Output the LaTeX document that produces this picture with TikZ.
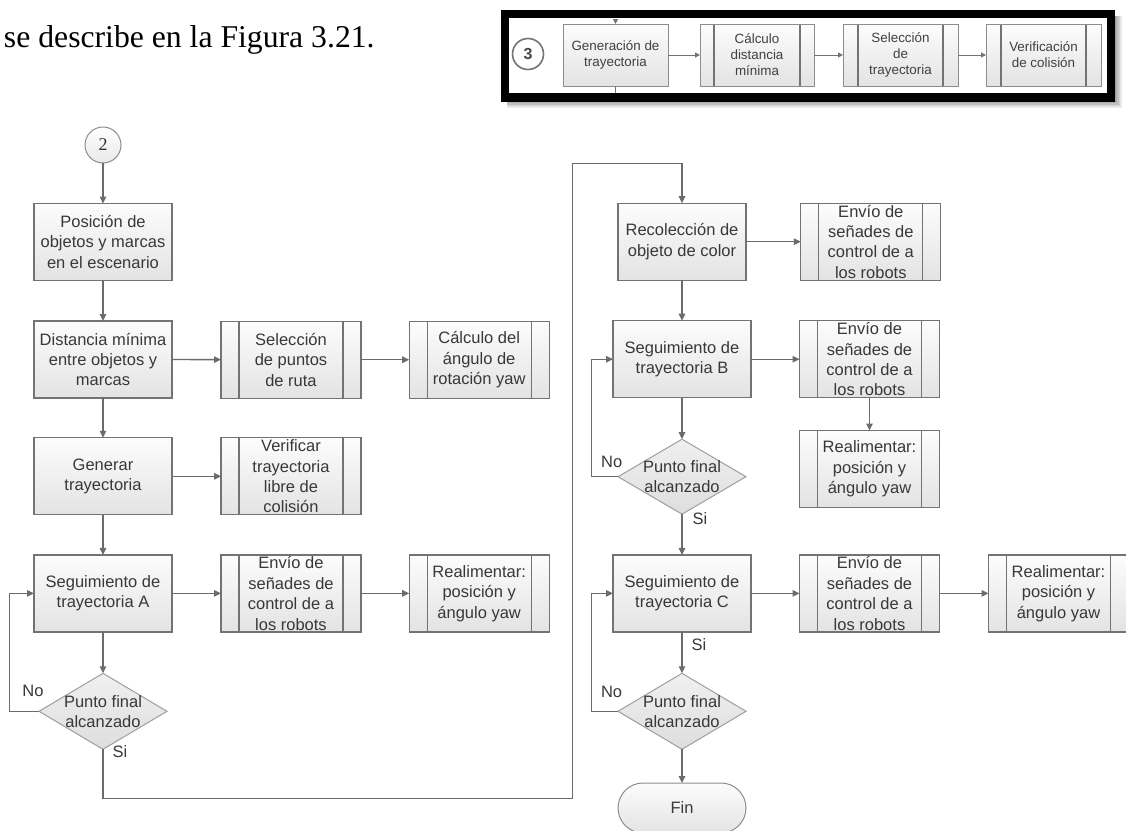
\documentclass[tikz,border=0pt]{standalone}
\usepackage{fontspec}
\setmainfont{Liberation Sans}
\newfontfamily\serifface{Liberation Serif}
\usetikzlibrary{arrows.meta,shapes.geometric}

\begin{document}
\begin{tikzpicture}[x=1pt,y=-1pt,
  every node/.style={inner sep=0pt, outer sep=0pt},
  txt/.style={align=center, text=black!78, font=\fontsize{16.5}{20.4}\selectfont},
  smalltxt/.style={align=center, text=black!75, font=\fontsize{13.4}{16}\selectfont},
  boxfill/.style={top color=black!1, bottom color=black!11},
  proc/.style={draw=black!55, line width=1.2pt, boxfill, minimum width=138pt, minimum height=77pt},
  sub/.style={proc, minimum width=140pt, path picture={
      \draw[black!55, line width=1.2pt]
        ([xshift=#1]path picture bounding box.north west) -- ([xshift=#1]path picture bounding box.south west)
        ([xshift=-#1]path picture bounding box.north east) -- ([xshift=-#1]path picture bounding box.south east);}},
  sub/.default=18pt,
  decision/.style={diamond, draw=black!38, line width=1pt, top color=black!6, bottom color=black!13,
      minimum width=128pt, minimum height=76pt},
  term/.style={draw=black!45, line width=1pt, boxfill, rounded corners=25pt,
      minimum width=128pt, minimum height=50pt},
  connector/.style={draw=black!58, line width=1.3pt},
  arr/.style={connector, -{Triangle[length=7pt,width=6.5pt]}},
  smallbox/.style={draw=black!45, line width=0.9pt, boxfill, minimum height=62pt},
  smallline/.style={draw=black!55, line width=1pt},
  smallarr/.style={smallline, -{Triangle[length=5pt,width=5pt]}}
]
\useasboundingbox (0,0) rectangle (1126,830);

% ---- running text line ----
\node[anchor=base west, font=\serifface\fontsize{31.7}{36}\selectfont] (head) at (4,47)
  {se describe en la Figura 3.21.};

% ---- framed summary of block 3 ----
\foreach \s in {1,...,5}
  \fill[black, opacity=0.09] (507,16) rectangle (1114+1.6*\s, 100+1.5*\s);
\fill[white] (505,14) rectangle (1111,97.5);
\draw[black, line width=8.3pt] (505,14) rectangle (1111,97.5);

\node[circle, draw=black!55, line width=1.6pt, fill=white, minimum size=31pt,
      text=black!72, font=\bfseries\fontsize{16}{16}\selectfont] (c3) at (528,54) {3};
\node[smallbox, minimum width=105pt] (g1) at (615.5,55) {};
\node[sub=14pt, smallbox, minimum width=114pt] (g2) at (757,55) {};
\node[sub=15pt, smallbox, minimum width=115pt] (g3) at (900.5,55) {};
\node[sub=15pt, smallbox, minimum width=115pt] (g4) at (1043.5,55) {};
\node[smalltxt] (g1-t) at (g1) {Generación de\\trayectoria};
\node[smalltxt] (g2-t) at (g2) {Cálculo\\distancia\\mínima};
\node[smalltxt] (g3-t) at (g3) {Selección\\de\\trayectoria};
\node[smalltxt] (g4-t) at (g4) {Verificación\\de colisión};

\coordinate (gin) at (615.5,18.5);
\coordinate (gout) at (615.5,93.2);
\draw[smallarr] (gin) -- (g1.north);
\draw[smallline] (g1.south) -- (gout);
\draw[smallarr] (g1) -- (g2);
\draw[smallarr] (g2) -- (g3);
\draw[smallarr] (g3) -- (g4);

% ---- connector 2 ----
\node[circle, draw=black!45, line width=1pt, top color=white, bottom color=black!9,
      minimum size=36pt, text=black!80, font=\serifface\fontsize{18}{18}\selectfont] (c2) at (103,145) {2};

% ---- left column ----
\node[proc] (pos)  at (103,242)   {};
\node[proc] (dist) at (103,359.5) {};
\node[proc] (gen)  at (103,476.3) {};
\node[proc] (segA) at (103,593.4) {};
\node[sub]  (sel)  at (291,359.7) {};
\node[sub]  (calc) at (479.2,359.7) {};
\node[sub]  (ver)  at (291,476.3) {};
\node[sub]  (envA) at (291,593.4) {};
\node[sub]  (realA) at (479.2,593.4) {};
\node[decision] (dA) at (103,711.3) {};

\node[txt] (pos-t)  at (pos)  {Posición de\\objetos y marcas\\en el escenario};
\node[txt] (dist-t) at (dist) {Distancia mínima\\entre objetos y\\marcas};
\node[txt] (gen-t)  at (gen)  {Generar\\trayectoria};
\node[txt] (segA-t) at (segA) {Seguimiento de\\trayectoria A};
\node[txt] (sel-t)  at (sel)  {Selección\\de puntos\\de ruta};
\node[txt] (calc-t) at (calc) {Cálculo del\\ángulo de\\rotación yaw};
\node[txt] (ver-t)  at (ver)  {Verificar\\trayectoria\\libre de\\colisión};
\node[txt] (envA-t) at (envA) {Envío de\\señades de\\control de a\\los robots};
\node[txt] (realA-t) at (realA) {Realimentar:\\posición y\\ángulo yaw};
\node[txt] (dA-t)   at (dA)   {Punto final\\alcanzado};

% ---- right column ----
\node[proc, minimum width=128pt] (rec) at (682,241.7) {};
\node[proc] (segB) at (682,359.2) {};
\node[proc] (segC) at (682,593.4) {};
\node[sub]  (env1) at (870.8,241.7) {};
\node[sub]  (env2) at (869.5,359.2) {};
\node[sub]  (realB) at (869.5,469) {};
\node[sub]  (env3) at (869.5,593.4) {};
\node[sub]  (realC) at (1058.5,593.4) {};
\node[decision, minimum height=75pt] (dB) at (682,476.7) {};
\node[decision] (dC) at (682,711.3) {};
\node[term] (fin) at (682,808) {};

\node[txt] (rec-t)  at (rec)  {Recolección de\\objeto de color};
\node[txt] (segB-t) at (segB) {Seguimiento de\\trayectoria B};
\node[txt] (segC-t) at (segC) {Seguimiento de\\trayectoria C};
\node[txt] (env1-t) at (env1) {Envío de\\señades de\\control de a\\los robots};
\node[txt] (env2-t) at (env2) {Envío de\\señades de\\control de a\\los robots};
\node[txt] (env3-t) at (env3) {Envío de\\señades de\\control de a\\los robots};
\node[txt] (realB-t) at (realB) {Realimentar:\\posición y\\ángulo yaw};
\node[txt] (realC-t) at (realC) {Realimentar:\\posición y\\ángulo yaw};
\node[txt] (dB-t) at (dB) {Punto final\\alcanzado};
\node[txt] (dC-t) at (dC) {Punto final\\alcanzado};
\node[txt] (fin-t) at (fin) {Fin};

% ---- branch labels ----
\node[txt] (noA) at (33,690.7)   {No};
\node[txt] (siA) at (120,752)    {Si};
\node[txt] (noB) at (611.7,462)  {No};
\node[txt] (siB) at (700,518.3)  {Si};
\node[txt] (siC) at (699,645)    {Si};
\node[txt] (noC) at (611.6,691.7) {No};

% ---- connectors ----
\draw[arr] (c2) -- (pos);
\draw[arr] (pos) -- (dist);
\draw[arr] (dist) -- (sel);
\draw[arr] (sel) -- (calc);
\draw[arr] (dist) -- (gen);
\draw[arr] (gen) -- (ver);
\draw[arr] (gen) -- (segA);
\draw[arr] (segA) -- (envA);
\draw[arr] (envA) -- (realA);
\draw[arr] (segA) -- (dA);
\coordinate (loopA) at (9.6,711.3);
\draw[arr] (dA.west) -- (loopA) |- (segA.west);

\coordinate (p1) at (572.3,798.3);
\coordinate (p2) at (572.3,163.3);
\draw[arr] (dA.south) |- (p1) -- (p2) -| (rec.north);

\draw[arr] (rec) -- (env1);
\draw[arr] (rec) -- (segB);
\draw[arr] (segB) -- (env2);
\draw[arr] (env2) -- (realB);
\draw[arr] (segB) -- (dB);
\coordinate (loopB) at (591.7,476.7);
\draw[arr] (dB.west) -- (loopB) |- (segB.west);
\draw[arr] (dB) -- (segC);
\draw[arr] (segC) -- (env3);
\draw[arr] (env3) -- (realC);
\draw[arr] (segC) -- (dC);
\coordinate (loopC) at (591.8,711.3);
\draw[arr] (dC.west) -- (loopC) |- (segC.west);
\draw[arr] (dC) -- (fin);
\end{tikzpicture}
\end{document}
